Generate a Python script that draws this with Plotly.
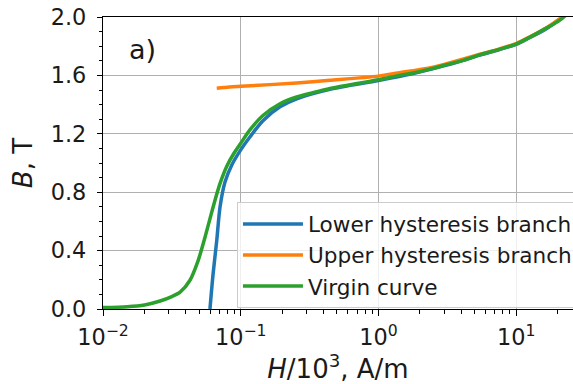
import plotly.graph_objects as go

# ---- data ----
H_lower = [0.0598, 0.063, 0.067, 0.0708, 0.0769, 0.086, 0.1, 0.117, 0.145, 0.193, 0.255, 0.445,
           1.0, 1.79, 3.13, 5.47, 7.5, 10, 12.6, 16.6, 24]
B_lower = [0.0, 0.24, 0.47, 0.70, 0.87, 0.985, 1.09, 1.18, 1.29, 1.385, 1.44, 1.505,
           1.565, 1.613, 1.67, 1.74, 1.776, 1.813, 1.86, 1.92, 2.03]

H_upper = [0.067, 0.083, 0.1, 0.255, 0.445, 1.0, 1.45, 1.79, 2.4, 3.13, 5.47, 7.5, 10, 12.6, 16.6, 24]
B_upper = [1.512, 1.52, 1.525, 1.548, 1.566, 1.595, 1.62, 1.632, 1.652, 1.68, 1.745, 1.78, 1.818,
           1.864, 1.926, 2.03]

H_virgin = [0.01, 0.015, 0.02, 0.026, 0.0316, 0.0363, 0.0427, 0.049, 0.055, 0.0631, 0.0708, 0.0794,
            0.0891, 0.1, 0.117, 0.145, 0.193, 0.255, 0.33, 0.445, 0.7, 1.0, 1.45, 1.79, 2.4,
            3.13, 4.2, 5.47, 7.5, 10, 12.6, 16.6, 20.9, 24]
B_virgin = [0.01, 0.016, 0.028, 0.055, 0.085, 0.115, 0.195, 0.33, 0.49, 0.70, 0.86, 0.98,
            1.065, 1.135, 1.228, 1.325, 1.406, 1.452, 1.48, 1.51, 1.545, 1.57, 1.602, 1.617, 1.645,
            1.674, 1.705, 1.742, 1.778, 1.815, 1.862, 1.924, 1.98, 2.03]

series_names = ["Lower hysteresis branch", "Upper hysteresis branch", "Virgin curve"]
series_colors = ["#1f77b4", "#ff7f0e", "#2ca02c"]

x_tickvals = [0.01, 0.1, 1, 10]
x_ticktext = ["10<sup>\u22122</sup>", "10<sup>\u22121</sup>", "10<sup>0</sup>", "10<sup>1</sup>"]
y_tickvals = [0.0, 0.4, 0.8, 1.2, 1.6, 2.0]

FONT = "DejaVu Sans"
TXT = "#1a1a1a"

fig = go.Figure()
for i, (H, B, name, col) in enumerate(zip([H_lower, H_upper, H_virgin], [B_lower, B_upper, B_virgin],
                                          series_names, series_colors)):
    fig.add_trace(go.Scatter(x=H, y=B, mode="lines", name=name, legendgroup=f"g{i}",
                             line=dict(color=col, width=3.5, shape="spline", smoothing=0.8)))

minor_x = [m * 10 ** k for k in (-2, -1, 0, 1) for m in range(2, 10)]

fig.update_layout(
    width=573, height=384,
    margin=dict(l=103, r=0, t=17, b=75, autoexpand=False),
    paper_bgcolor="white", plot_bgcolor="white",
    font=dict(family=FONT, color=TXT, size=21),
    showlegend=True,
    legend=dict(x=0.285, y=0.365, xanchor="left", yanchor="top",
                bgcolor="rgba(255,255,255,0.8)", bordercolor="#cccccc", borderwidth=1,
                font=dict(family=FONT, size=21.6, color=TXT), itemwidth=60,
                tracegroupgap=0),
    xaxis=dict(type="log", range=[-2, 1.413],
               tickmode="array", tickvals=x_tickvals, ticktext=x_ticktext,
               tickfont=dict(size=22.4), ticks="outside", ticklen=6, tickwidth=1.2, tickcolor="black",
               ticklabelstandoff=2,
               showgrid=True, gridcolor="#b0b0b0", gridwidth=1,
               showline=True, linecolor="black", linewidth=1.3, mirror=True,
               zeroline=False,
               minor=dict(tickmode="array", tickvals=minor_x, ticks="outside", ticklen=3.5,
                          tickcolor="black", tickwidth=1, showgrid=False),
               title=dict(text="<i>H</i>/10<sup>3</sup>, A/m", font=dict(size=26), standoff=10)),
    yaxis=dict(range=[0, 2.0], tickmode="array", tickvals=y_tickvals, tickformat=".1f",
               tickfont=dict(size=22.4), ticks="outside", ticklen=5, tickwidth=1.2, tickcolor="black",
               ticklabelstandoff=6,
               showgrid=True, gridcolor="#b0b0b0", gridwidth=1,
               showline=True, linecolor="black", linewidth=1.3, zeroline=False,
               minor=dict(dtick=0.1, ticks="outside", ticklen=3, tickcolor="black",
                          tickwidth=1, showgrid=False),
               title=dict(text="<i>B</i>, T", font=dict(size=26), standoff=10)),
    annotations=[dict(text="a)", x=0.05, y=0.89, xref="paper", yref="paper",
                      xanchor="left", yanchor="middle", showarrow=False,
                      font=dict(size=27, family=FONT, color=TXT))],
)

fig.write_html("out.html", config={"displayModeBar": False},
               post_script="document.body.style.margin='0';document.body.style.overflow='hidden';")
